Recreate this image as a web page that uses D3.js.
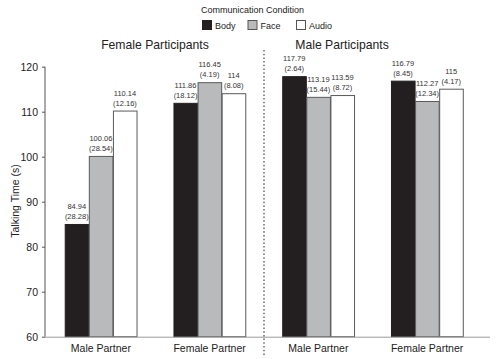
<!DOCTYPE html>
<html><head><meta charset="utf-8">
<script src="https://cdn.jsdelivr.net/npm/d3@7"></script>
<style>body{margin:0;background:#fff;} svg{display:block;font-family:"Liberation Sans",Arial,sans-serif;}</style>
</head><body>
<script>
const groups = ["FP-Male Partner","FP-Female Partner","MP-Male Partner","MP-Female Partner"];
const groupLabels = ["Male Partner","Female Partner","Male Partner","Female Partner"];
const panels = ["Female Participants","Male Participants"];
const conditions = ["Body","Face","Audio"];
const bodyVals = [84.94,111.86,117.79,116.79];
const bodySD = ["28.28","18.12","2.64","8.45"];
const faceVals = [100.06,116.45,113.19,112.27];
const faceSD = ["28.54","4.19","15.44","12.34"];
const audioVals = [110.14,114,113.59,115];
const audioSD = ["12.16","8.08","8.72","4.17"];
const yTicks = [60,70,80,90,100,110,120];
const colors = {Body:"#231f20",Face:"#b9babc",Audio:"#ffffff"};

const W=500,H=359;
const svg=d3.select("body").append("svg").attr("width",W).attr("height",H);
const x=d3.scaleBand().domain(groups).range([46.5,481.5]).paddingInner(0.335).paddingOuter(0.1675);
const xs=d3.scaleBand().domain(conditions).range([0,x.bandwidth()]);
const y=d3.scaleLinear().domain([60,120]).range([336.7,66.7]);

const data=[];
groups.forEach((g,i)=>{
  data.push({g,c:"Body",v:bodyVals[i],sd:bodySD[i]});
  data.push({g,c:"Face",v:faceVals[i],sd:faceSD[i]});
  data.push({g,c:"Audio",v:audioVals[i],sd:audioSD[i]});
});
const fmt=v=>(Math.round(v*100)%100===0)?String(Math.round(v)):v.toFixed(2);

// bars
svg.append("g").selectAll("rect").data(data).join("rect")
  .attr("x",d=>x(d.g)+xs(d.c)+0.5).attr("width",xs.bandwidth()-0.5)
  .attr("y",d=>y(d.v)).attr("height",d=>y(60)-y(d.v))
  .attr("fill",d=>colors[d.c]).attr("stroke",d=>d.c==="Body"?"#231f20":"#5a5a5a").attr("stroke-width",1);

// value labels
const lab=svg.append("g").attr("font-size",7.5).attr("fill","#333").attr("text-anchor","middle");
lab.selectAll("text.v").data(data).join("text").attr("class","v")
  .attr("x",d=>x(d.g)+xs(d.c)+xs.bandwidth()/2).attr("y",d=>y(d.v)-15.5).text(d=>fmt(d.v));
lab.selectAll("text.s").data(data).join("text").attr("class","s")
  .attr("x",d=>x(d.g)+xs(d.c)+xs.bandwidth()/2).attr("y",d=>y(d.v)-5.5).text(d=>"("+d.sd+")");

// y axis
const ya=svg.append("g").attr("transform","translate(45,0)")
  .call(d3.axisLeft(y).tickValues(yTicks).tickSize(3).tickPadding(4));
ya.select(".domain").attr("stroke","#555").attr("d","M0,"+y(60)+"V"+y(120));
ya.selectAll(".tick line").attr("stroke","#555");
ya.selectAll("text").attr("font-size",10.5).attr("fill","#222").attr("font-family","Liberation Sans, Arial, sans-serif");

// x axis
svg.append("line").attr("x1",45).attr("x2",490).attr("y1",y(60)+0.5).attr("y2",y(60)+0.5).attr("stroke","#9a9a9a").attr("stroke-width",1);
svg.append("g").selectAll("text").data(groups).join("text")
  .attr("x",d=>x(d)+x.bandwidth()/2).attr("y",352).attr("text-anchor","middle")
  .attr("font-size",10.5).attr("fill","#222").text((d,i)=>groupLabels[i]);

// divider
const divX=(x(groups[1])+x.bandwidth()+x(groups[2]))/2;
svg.append("line").attr("x1",divX).attr("x2",divX).attr("y1",50).attr("y2",356)
  .attr("stroke","#444").attr("stroke-width",1.2).attr("stroke-dasharray","1.5,2.2");

// panel titles
svg.selectAll("text.pt").data(panels).join("text").attr("class","pt")
  .attr("x",(d,i)=>i===0?155:342).attr("y",48.5).attr("text-anchor","middle")
  .attr("font-size",12.2).attr("fill","#222").text(d=>d);

// y label
svg.append("text").attr("transform","translate(19,201) rotate(-90)").attr("text-anchor","middle")
  .attr("font-size",10.5).attr("fill","#222").text("Talking Time (s)");

// legend
svg.append("text").attr("x",252.5).attr("y",13).attr("text-anchor","middle").attr("font-size",9).attr("fill","#222").text("Communication Condition");
const legX=[202,247.5,296];
const lg=svg.append("g").selectAll("g").data(conditions).join("g").attr("transform",(d,i)=>`translate(${legX[i]},20)`);
lg.append("rect").attr("x",0.5).attr("y",0.5).attr("width",9).attr("height",9)
  .attr("fill",d=>colors[d]).attr("stroke",d=>d==="Body"?"#231f20":"#555");
lg.append("text").attr("x",13).attr("y",8.5).attr("font-size",9).attr("fill","#222").text(d=>d);
</script>
</body></html>
